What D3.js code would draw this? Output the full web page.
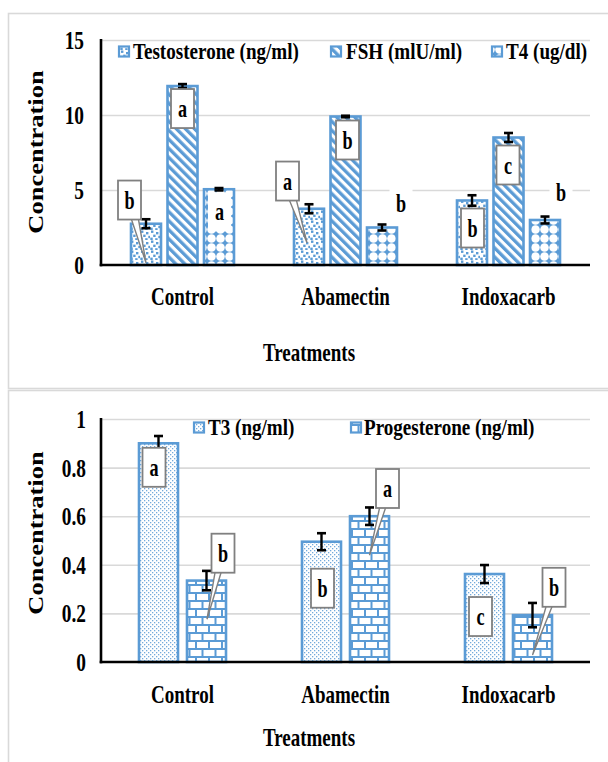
<!DOCTYPE html>
<html><head><meta charset="utf-8">
<script src="https://cdn.jsdelivr.net/npm/d3@7"></script>
<style>
body{margin:0;background:#fff}
svg{display:block}
text{font-family:"Liberation Serif","Times New Roman",serif;font-weight:bold;fill:#000}
</style>
</head><body>
<svg id="c" width="608" height="762"></svg>
<script>
// ---------------- DATA ----------------
const categories = ["Control", "Abamectin", "Indoxacarb"];

const topSeries = ["Testosterone (ng/ml)", "FSH (mlU/ml)", "T4 (ug/dl)"];
const testosterone = [2.75, 3.75, 4.3];
const testosteroneErr = [0.3, 0.3, 0.35];
const fsh = [11.93, 9.9, 8.5];
const fshErr = [0.13, 0.05, 0.3];
const t4 = [5.05, 2.5, 3.0];
const t4Err = [0.08, 0.2, 0.23];
const testosteroneLetters = ["b", "a", "b"];
const fshLetters = ["a", "b", "c"];
const t4Letters = ["a", "b", "b"];
const topTicks = [0, 5, 10, 15];
const topTickLabels = ["0", "5", "10", "15"];

const bottomSeries = ["T3 (ng/ml)", "Progesterone (ng/ml)"];
const t3 = [0.9, 0.495, 0.362];
const t3Err = [0.03, 0.035, 0.037];
const progesterone = [0.335, 0.6, 0.193];
const progesteroneErr = [0.04, 0.036, 0.05];
const t3Letters = ["a", "b", "c"];
const progesteroneLetters = ["b", "a", "b"];
const bottomTicks = [0, 0.2, 0.4, 0.6, 0.8, 1];
const bottomTickLabels = ["0", "0.2", "0.4", "0.6", "0.8", "1"];

const xTitle = "Treatments";
const yTitle = "Concentration";

// ---------------- STYLE / LAYOUT ----------------
const BLUE = "#5b9bd5", GRID = "#d9d9d9", CALL = "#808080";
const svg = d3.select("#c");
const defs = svg.append("defs");

function pattern(id, w, h, draw, tf) {
  const p = defs.append("pattern").attr("id", id)
    .attr("patternUnits", "userSpaceOnUse").attr("width", w).attr("height", h);
  if (tf) p.attr("patternTransform", tf);
  draw(p);
}
pattern("pTest", 10, 10, p => {
  p.append("rect").attr("width", 10).attr("height", 10).attr("fill", "#fff");
  [[1,0.5],[6,2],[3.2,4.6],[8.3,5.8],[0.3,7.6],[5.2,8.2]].forEach(([x,y]) =>
    p.append("rect").attr("x", x).attr("y", y).attr("width", 2.4).attr("height", 2.4).attr("fill", BLUE));
});
pattern("pFsh", 6.4, 10, p => {
  p.append("rect").attr("width", 6.4).attr("height", 10).attr("fill", "#fff");
  p.append("rect").attr("width", 3.3).attr("height", 10).attr("fill", BLUE);
}, "rotate(-45)");
pattern("pT4", 9, 9, p => {
  p.append("rect").attr("width", 9).attr("height", 9).attr("fill", BLUE);
  p.append("circle").attr("cx", 4.5).attr("cy", 4.5).attr("r", 4.3).attr("fill", "#fff");
});
pattern("pT3", 4, 4, p => {
  p.append("rect").attr("width", 4).attr("height", 4).attr("fill", "#fff");
  p.append("rect").attr("x", 0).attr("y", 0).attr("width", 1.3).attr("height", 1.3).attr("fill", BLUE).attr("opacity", 0.85);
  p.append("rect").attr("x", 2).attr("y", 2).attr("width", 1.3).attr("height", 1.3).attr("fill", BLUE).attr("opacity", 0.85);
});
pattern("pProg", 13, 16, p => {
  p.append("rect").attr("width", 13).attr("height", 16).attr("fill", "#fff");
  p.append("rect").attr("x", 0).attr("y", 0).attr("width", 13).attr("height", 2).attr("fill", BLUE);
  p.append("rect").attr("x", 0).attr("y", 8).attr("width", 13).attr("height", 2).attr("fill", BLUE);
  p.append("rect").attr("x", 0).attr("y", 0).attr("width", 2).attr("height", 8).attr("fill", BLUE);
  p.append("rect").attr("x", 6.5).attr("y", 8).attr("width", 2).attr("height", 8).attr("fill", BLUE);
});

function txt(g, x, y, s, size, sx, anchor) {
  return g.append("text")
    .attr("transform", `translate(${x},${y}) scale(${sx},1)`)
    .attr("text-anchor", anchor || "middle")
    .attr("font-size", size).text(s);
}

// panel frames
svg.append("rect").attr("x", 8.5).attr("y", 13.5).attr("width", 640).attr("height", 375)
  .attr("fill", "none").attr("stroke", GRID).attr("stroke-width", 1.6);
svg.append("rect").attr("x", 8.5).attr("y", 390.5).attr("width", 640).attr("height", 420)
  .attr("fill", "none").attr("stroke", GRID).attr("stroke-width", 1.6);

const PL = 101, PR = 590;

function drawChart(cfg) {
  const g = svg.append("g");
  const x0 = d3.scaleBand().domain(categories).range([PL, PR]);
  const x1 = d3.scaleBand().domain(cfg.series).range(cfg.x1Range).paddingInner(cfg.pad);
  const y = d3.scaleLinear().domain([0, cfg.yMax]).range([cfg.yBase, cfg.yTop]);

  // gridlines
  g.append("g").attr("transform", `translate(${PL},0)`)
    .call(d3.axisLeft(y).tickValues(cfg.ticks.filter(t => t > 0)).tickSize(-(PR - PL)).tickFormat(""))
    .call(a => { a.select(".domain").remove();
      a.selectAll("line").attr("stroke", GRID).attr("stroke-width", 1.6); });

  // y tick labels
  const ySx = 0.76;
  g.append("g").attr("transform", `translate(${PL},0)`)
    .call(d3.axisLeft(y).tickValues(cfg.ticks).tickSize(0)
      .tickFormat((d, i) => cfg.tickLabels[i]))
    .call(a => { a.select(".domain").remove();
      a.selectAll("text").attr("font-size", 25.5).attr("x", 0).attr("dy", "0.33em")
        .attr("font-family", null).attr("fill", "#000")
        .attr("transform", `translate(${cfg.tickRight - PL},0) scale(${ySx},1)`); });

  // category labels
  g.append("g").attr("transform", `translate(0,${cfg.yBase})`)
    .call(d3.axisBottom(x0).tickSize(0))
    .call(a => { a.select(".domain").remove();
      a.selectAll("text").attr("font-size", 25.5).attr("y", 0).attr("dy", 0)
        .attr("font-family", null).attr("fill", "#000")
        .attr("transform", `translate(0,${cfg.catBase - cfg.yBase}) scale(0.745,1)`); });

  // bars
  cfg.series.forEach((s, i) => {
    categories.forEach((c, j) => {
      const v = cfg.values[i][j];
      const bx = x0(c) + x0.bandwidth() / 2 + x1(s);
      g.append("rect").attr("x", bx).attr("y", y(v))
        .attr("width", x1.bandwidth()).attr("height", cfg.yBase - y(v))
        .attr("fill", `url(#${cfg.pats[i]})`).attr("stroke", BLUE).attr("stroke-width", 2.6);
    });
  });

  // error bars
  cfg.series.forEach((s, i) => {
    categories.forEach((c, j) => {
      const v = cfg.values[i][j], e = cfg.errs[i][j];
      const cx = x0(c) + x0.bandwidth() / 2 + x1(s) + x1.bandwidth() / 2;
      const eg = g.append("g").attr("stroke", "#000");
      eg.append("line").attr("x1", cx).attr("x2", cx).attr("y1", y(v - e)).attr("y2", y(v + e)).attr("stroke-width", 2.4);
      [v - e, v + e].forEach(t => eg.append("line").attr("x1", cx - 4.5).attr("x2", cx + 4.5)
        .attr("y1", y(t)).attr("y2", y(t)).attr("stroke-width", 2.6));
    });
  });

  // axes lines
  g.append("line").attr("x1", PL).attr("x2", PL).attr("y1", cfg.yTop - 1).attr("y2", cfg.yBase + 1.3)
    .attr("stroke", "#000").attr("stroke-width", 2.6);
  g.append("line").attr("x1", PL - 1.3).attr("x2", PR).attr("y1", cfg.yBase).attr("y2", cfg.yBase)
    .attr("stroke", "#000").attr("stroke-width", 2.6);

  // callout labels
  cfg.series.forEach((s, i) => {
    categories.forEach((c, j) => {
      const L = cfg.layout[i][j];
      const v = cfg.values[i][j];
      const bcx = x0(c) + x0.bandwidth() / 2 + x1(s) + x1.bandwidth() / 2;
      const top = y(v);
      const cx = bcx + L.dx, cy = top + L.dy;
      const w = 23, h = 39;
      if (L.tail) {
        const tx = bcx + L.tail[0], ty = top + L.tail[1];
        const b0 = tx > cx ? cx + 2 : cx - 8, b1 = tx > cx ? cx + 9 : cx - 2;
        g.append("path").attr("d", `M${b0},${cy + h / 2}L${tx},${ty}L${b1},${cy + h / 2}`)
          .attr("fill", "#fff").attr("stroke", CALL).attr("stroke-width", 1.4);
      }
      g.append("rect").attr("x", cx - w / 2).attr("y", cy - h / 2).attr("width", w).attr("height", h)
        .attr("fill", "#fff").attr("stroke", L.border ? CALL : "none").attr("stroke-width", 1.8);
      txt(g, cx, cy + 8.5, cfg.letters[i][j], 26, 0.7);
    });
  });

  // axis titles
  txt(g, 309, cfg.xTitleBase, xTitle, 25.5, 0.745);
  g.append("text").attr("transform", `translate(43,${cfg.yTitleC}) scale(0.78,1) rotate(-90)`)
    .attr("text-anchor", "middle").attr("font-size", 26.5).text(yTitle);

  // legend
  cfg.series.forEach((s, i) => {
    const [mx, tx] = cfg.legendX[i];
    g.append("rect").attr("x", mx).attr("y", cfg.legendY - 12.5).attr("width", 10).attr("height", 10)
      .attr("fill", `url(#${cfg.pats[i]})`).attr("stroke", BLUE).attr("stroke-width", 2.2);
    txt(g, tx, cfg.legendY, s, 23, 0.83, "start");
  });
}

drawChart({
  series: topSeries,
  values: [testosterone, fsh, t4],
  errs: [testosteroneErr, fshErr, t4Err],
  letters: [testosteroneLetters, fshLetters, t4Letters],
  pats: ["pTest", "pFsh", "pT4"],
  ticks: topTicks, tickLabels: topTickLabels,
  yMax: 15, yTop: 40, yBase: 265,
  x1Range: [-51.5, 51.5], pad: 0.178,
  tickRight: 84, catBase: 305, xTitleBase: 361, yTitleC: 152,
  legendY: 59, legendX: [[119, 133], [331, 346], [492, 506]],
  layout: [
    [{dx: -16.5, dy: -23.7, border: true, tail: [0, 39]},
     {dx: -21.5, dy: -27.7, border: true, tail: [-2, 34]},
     {dx: 0.5, dy: 27.5, border: true}],
    [{dx: 0, dy: 22.5, border: true},
     {dx: 2, dy: 23.5, border: true},
     {dx: -0.5, dy: 27.5, border: true}],
    [{dx: 0.5, dy: 22.7, border: false},
     {dx: 19, dy: -24.5, border: false},
     {dx: 16, dy: -28, border: false}]
  ]
});

drawChart({
  series: bottomSeries,
  values: [t3, progesterone],
  errs: [t3Err, progesteroneErr],
  letters: [t3Letters, progesteroneLetters],
  pats: ["pT3", "pProg"],
  ticks: bottomTicks, tickLabels: bottomTickLabels,
  yMax: 1, yTop: 419, yBase: 662,
  x1Range: [-43.5, 43.5], pad: 0.1875,
  tickRight: 86, catBase: 703, xTitleBase: 746, yTitleC: 533,
  legendY: 435, legendX: [[194, 208], [351, 364]],
  layout: [
    [{dx: -4.5, dy: 24, border: true},
     {dx: 1, dy: 46.5, border: true},
     {dx: -4, dy: 42.5, border: true}],
    [{dx: 16.5, dy: -27.4, border: true, tail: [0.5, 38.6]},
     {dx: 18, dy: -27.7, border: true, tail: [0, 39]},
     {dx: 21.5, dy: -27.8, border: true, tail: [0, 40]}]
  ]
});
</script>
</body></html>
